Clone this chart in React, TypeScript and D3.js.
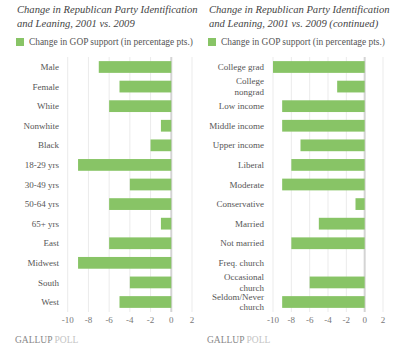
import * as d3 from 'd3'

const leftCats = ["Male", "Female", "White", "Nonwhite", "Black", "18-29 yrs", "30-49 yrs",
  "50-64 yrs", "65+ yrs", "East", "Midwest", "South", "West"]
const leftVals = [-7, -5, -6, -1, -2, -9, -4, -6, -1, -6, -9, -4, -5]

const rightCats = ["College grad", "College\nnongrad", "Low income", "Middle income", "Upper income",
  "Liberal", "Moderate", "Conservative", "Married", "Not married", "Freq. church",
  "Occasional\nchurch", "Seldom/Never\nchurch"]
const rightVals = [-10, -3, -9, -9, -7, -8, -9, -1, -5, -8, 0, -6, -9]

const ticks = [-10, -8, -6, -4, -2, 0, 2]
const legendText = "Change in GOP support (in percentage pts.)"
const leftTitle = ["Change in Republican Party Identification", "and Leaning, 2001 vs. 2009"]
const rightTitle = ["Change in Republican Party Identification", "and Leaning, 2001 vs. 2009 (continued)"]

const font = "'Liberation Serif', 'DejaVu Serif', serif"
const green = "#88c466"

function Panel({ x0, cats, vals, title, xr, labelX }: any) {
  const x = d3.scaleLinear().domain([-10, 2]).range(xr)
  const y = d3.scaleBand().domain(cats).range([57.2, 311.8]).paddingInner(0.4).paddingOuter(0.2)
  return (
    <g>
      {title.map((t: string, i: number) => (
        <text key={i} x={x0} y={13 + i * 14} fontSize={10.6} fontStyle="italic" fill="#444" fontFamily={font}>{t}</text>
      ))}
      <rect x={x0 - 1} y={38} width={8} height={8} fill={green} />
      <text x={x0 + 12} y={45} fontSize={9.4} fill="#555" fontFamily={font}>{legendText}</text>
      {ticks.map(t => (
        <g key={t}>
          <line x1={x(t)} x2={x(t)} y1={57} y2={312} stroke={t === 0 ? "#d4d4d4" : "#ebebeb"} strokeWidth={t === 0 ? 2 : 1} />
          <text x={x(t)} y={323} fontSize={9} fill="#777" textAnchor="middle" fontFamily={font}>{t}</text>
        </g>
      ))}
      {cats.map((c: string, i: number) => {
        const v = vals[i]
        const yy = y(c)!
        const lines = c.split("\n")
        return (
          <g key={c}>
            {v !== 0 && (
              <rect x={x(Math.min(v, 0))} y={yy} width={Math.abs(x(v) - x(0))} height={y.bandwidth()} fill={green} />
            )}
            {lines.map((l, j) => (
              <text key={j} x={labelX} y={yy + y.bandwidth() / 2 + (j - (lines.length - 1) / 2) * 10.5}
                dy="0.35em" fontSize={9} fill="#555" textAnchor="end" fontFamily={font}>{l}</text>
            ))}
          </g>
        )
      })}
      <text x={x0 - 2} y={343} fontSize={9.5} fontFamily={font}>
        <tspan fill="#888">GALLUP</tspan><tspan fill="#c4c4c4"> POLL</tspan>
      </text>
    </g>
  )
}

export default function App() {
  return (
    <svg width={400} height={350} style={{ position: 'absolute', left: 0, top: 0, background: '#fff' }}>
      <Panel x0={17} cats={leftCats} vals={leftVals} title={leftTitle} xr={[67.7, 192]} labelX={59} />
      <Panel x0={209} cats={rightCats} vals={rightVals} title={rightTitle} xr={[273, 383]} labelX={264} />
    </svg>
  )
}
